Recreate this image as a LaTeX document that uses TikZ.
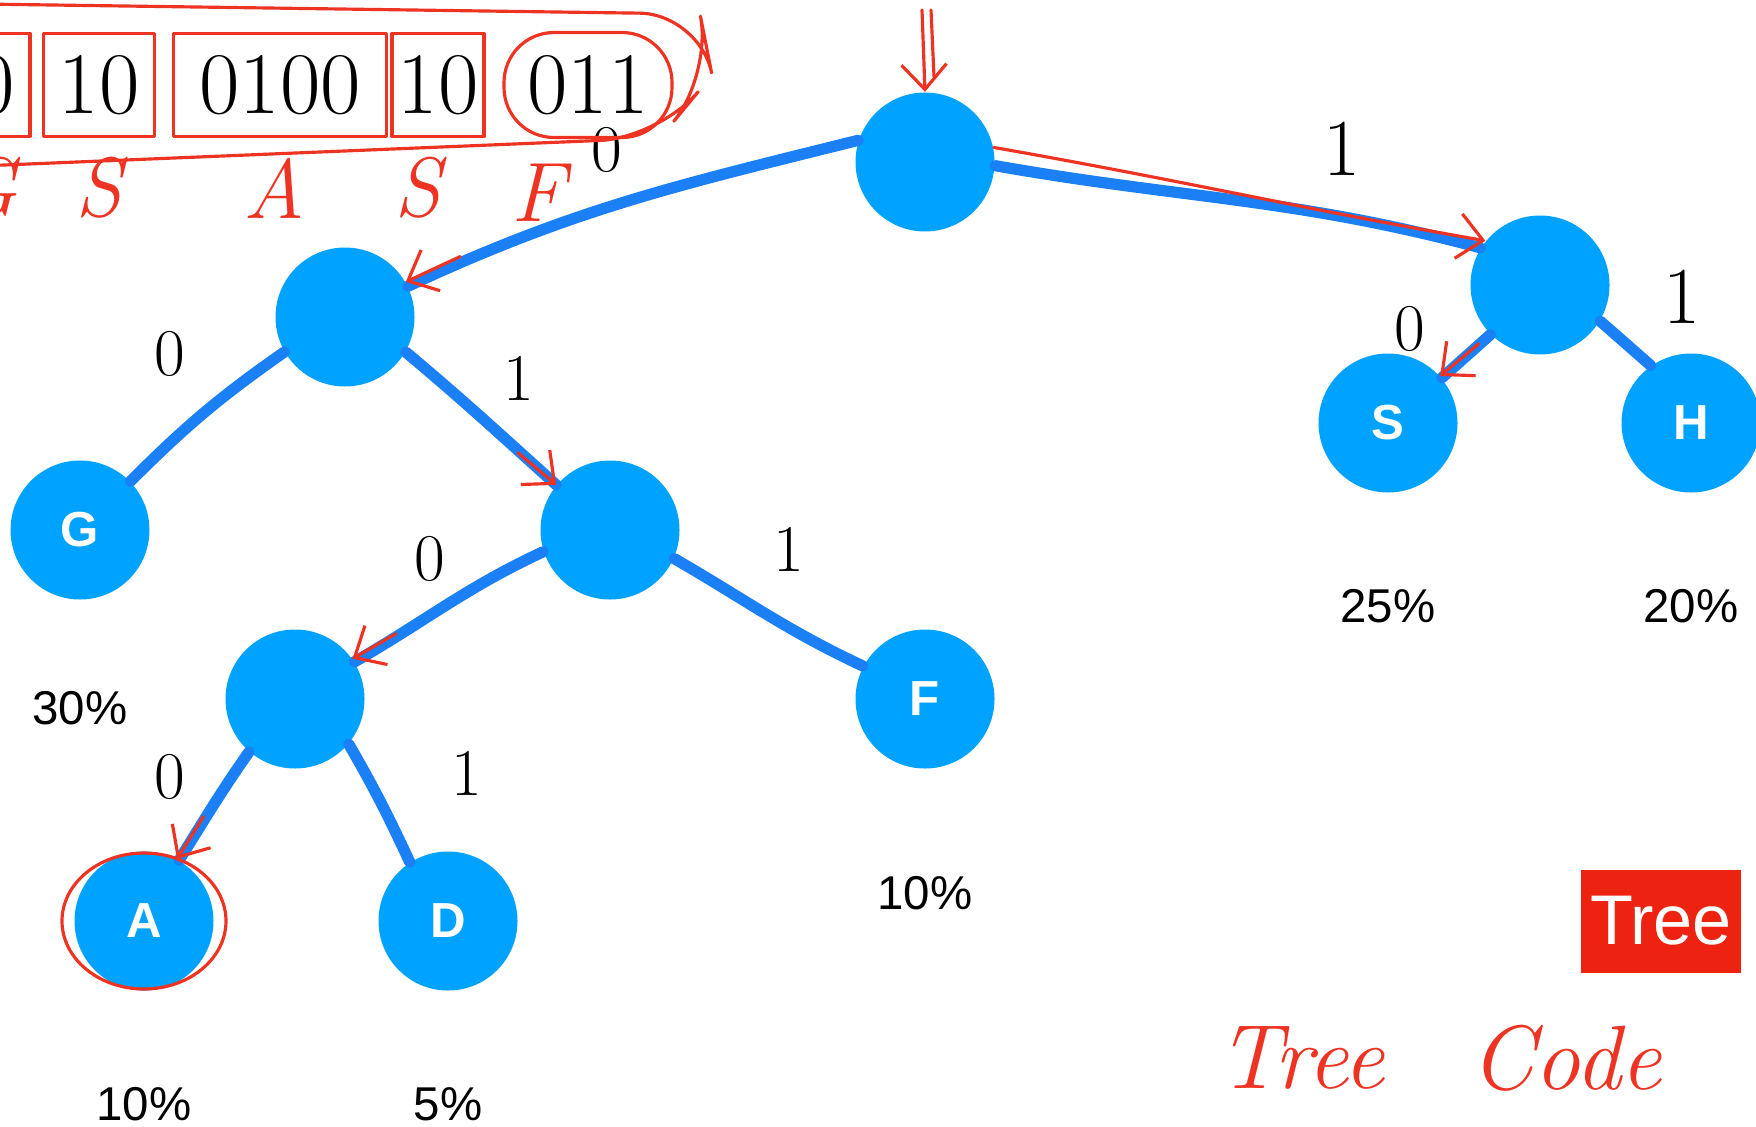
\documentclass[tikz,border=0pt]{standalone}
\usepackage{fontspec}
\usepackage{tikz}
\usetikzlibrary{arrows.meta, positioning, calc}
\newfontfamily\arialfont{Liberation Sans}
\definecolor{colorBubble}{HTML}{00A2FF}
\definecolor{colorBranch}{HTML}{1B7FF5}
\definecolor{colorInk}{HTML}{EE3322}
\definecolor{colorBadge}{HTML}{EE2211}

\begin{document}
\begin{tikzpicture}[on grid, >={Straight Barb[length=2.5mm, width=4.5mm]},
        bubble/.style={circle, fill=colorBubble, minimum size=1.39cm, inner sep=0pt,
            text=white, font=\arialfont\bfseries\fontsize{14}{14}\selectfont},
        branch/.style={draw=colorBranch, line width=3.2pt, line cap=round},
        ink/.style={draw=colorInk, line width=0.9pt, line cap=round, line join=round},
        digit/.style={font=\fontsize{19}{19}\selectfont},
        share/.style={font=\arialfont\fontsize{13.5}{14}\selectfont},
        bitbox/.style={ink, inner sep=0pt, minimum height=1.03cm, font=\fontsize{25}{25}\selectfont},
        scrawl/.style={text=colorInk, font=\itshape\fontsize{24}{24}\selectfont},
        badge/.style={fill=colorBadge, text=white, minimum width=1.6cm, minimum height=1.03cm,
            inner sep=0pt, font=\arialfont\fontsize{20}{20}\selectfont}]
    \useasboundingbox (0,0) rectangle (17.56,-11.26);
    \clip (0,0) rectangle (17.56,-11.26);
    % arbol
    \node[bubble] (n) at (9.25,-1.62) {};
    \node[bubble, below left=1.55cm and 5.8cm of n] (n0) {};
    \node[bubble, below right=1.23cm and 6.15cm of n] (n1) {};
    \node[bubble, below left=2.13cm and 2.65cm of n0] (g) {G};
    \node[bubble, below right=2.13cm and 2.65cm of n0] (n01) {};
    \node[bubble, below left=1.69cm and 3.15cm of n01] (n010) {};
    \node[bubble, below right=1.69cm and 3.15cm of n01] (f) {F};
    \node[bubble, below left=2.22cm and 1.51cm of n010] (a) {A};
    \node[bubble, below right=2.22cm and 1.53cm of n010] (d) {D};
    \node[bubble, below left=1.38cm and 1.52cm of n1] (s) {S};
    \node[bubble, below right=1.38cm and 1.51cm of n1] (h) {H};
    % porcentajes
    \node[share, below=1.78cm of g] (pg) {30\%};
    \node[share, below=1.83cm of s] (ps) {25\%};
    \node[share, below=1.83cm of h] (ph) {20\%};
    \node[share, below=1.94cm of f] (pf) {10\%};
    \node[share, below=1.83cm of a] (pa) {10\%};
    \node[share, below=1.83cm of d] (pd) {5\%};
    % ramas
    \draw[branch] (n.162) to[out=194, in=25] node[digit, xshift=-2.2mm, yshift=5.1mm] {0} (n0.26);
    \draw[branch] (n.-3) to[out=-10, in=165] node[digit, xshift=10.3mm, yshift=5.2mm, font=\fontsize{23}{23}\selectfont] {1} (n1.148);
    \draw[branch] (n0.210) to[out=215, in=45] node[digit, xshift=-3.4mm, yshift=5.9mm] {0} (g.44);
    \draw[branch] (n0.-30) to[out=-40, in=138] node[digit, xshift=3.7mm, yshift=3.9mm] {1} (n01.140);
    \draw[branch] (n01.198) to[out=205, in=30] node[digit, xshift=-1.8mm, yshift=4.5mm] {0} (n010.32);
    \draw[branch] (n01.-24) to[out=-30, in=155] node[digit, xshift=2.2mm, yshift=6.5mm] {1} (f.152);
    \draw[branch] (n010.229) to[out=235, in=58] node[digit, xshift=-4.3mm, yshift=2.9mm] {0} (a.60);
    \draw[branch] (n010.-40) to[out=-60, in=115] node[digit, xshift=8.6mm, yshift=2.9mm] {1} (d.123);
    \draw[branch] (n1.225) -- node[digit, xshift=-5.6mm, yshift=2.7mm] {0} (s.40);
    \draw[branch] (n1.-31) -- node[digit, xshift=5.7mm, yshift=4.7mm, font=\fontsize{23}{23}\selectfont] {1} (h.125);
    % marcas en rojo
    \coordinate (drop) at (9.22,-0.1);
    \draw[ink, ->] (drop) -- (n.north);
    \draw[ink] ([xshift=0.9mm]drop) -- ([xshift=0.9mm, yshift=1.5mm]n.north);
    \draw[ink, ->] (n.12) to[out=-10, in=170] (n1.141);
    \draw[ink, ->] ($(n0.30)+(25:6mm)$) -- (n0.30);
    \draw[ink, ->] ($(n01.140)+(140:5mm)$) -- (n01.140);
    \draw[ink, ->] ($(n010.35)+(30:5mm)$) -- (n010.35);
    \draw[ink, ->] ($(a.62)+(58:5mm)$) -- (a.62);
    \draw[ink, ->] ($(s.42)+(40:5mm)$) -- (s.42);
    \draw[ink] (a) circle[x radius=8.2mm, y radius=6.8mm];
    % codigo
    \node[bitbox, minimum width=1.1cm] (c1) at (-0.25,-0.85) {00};
    \node[bitbox, minimum width=1.11cm, right=1.24cm of c1] (c2) {10};
    \node[bitbox, minimum width=2.13cm, right=1.81cm of c2] (c3) {0100};
    \node[bitbox, minimum width=0.92cm, right=1.58cm of c3] (c4) {10};
    \node[bitbox, minimum width=1.68cm, minimum height=1.05cm, rounded corners=5mm, right=1.5cm of c4] (c5) {011};
    \draw[ink, rounded corners=6mm] (-0.2,-0.04) -- (7.0,-0.14) -- (7.12,-0.75) -- (6.6,-1.38) -- (-0.2,-1.66);
    \node[scrawl, below=1.03cm of c1, xshift=1mm] (lg) {G};
    \node[scrawl, below=1.03cm of c2] (ls) {S};
    \node[scrawl, below=1.03cm of c3, xshift=-0.6mm] (la) {A};
    \node[scrawl, below=1.03cm of c4, xshift=-2mm] (ls2) {S};
    \node[scrawl, below=1.08cm of c5, xshift=-5mm] (lf) {F};
    % rotulos
    \node[badge] (tree) at (16.61,-9.21) {Tree};
    \node[scrawl, font=\itshape\fontsize{26}{26}\selectfont] (tc) at (13.01,-10.58) {Tree};
    \node[scrawl, font=\itshape\fontsize{26}{26}\selectfont, right=2.65cm of tc] (cd) {Code};
\end{tikzpicture}
\end{document}
